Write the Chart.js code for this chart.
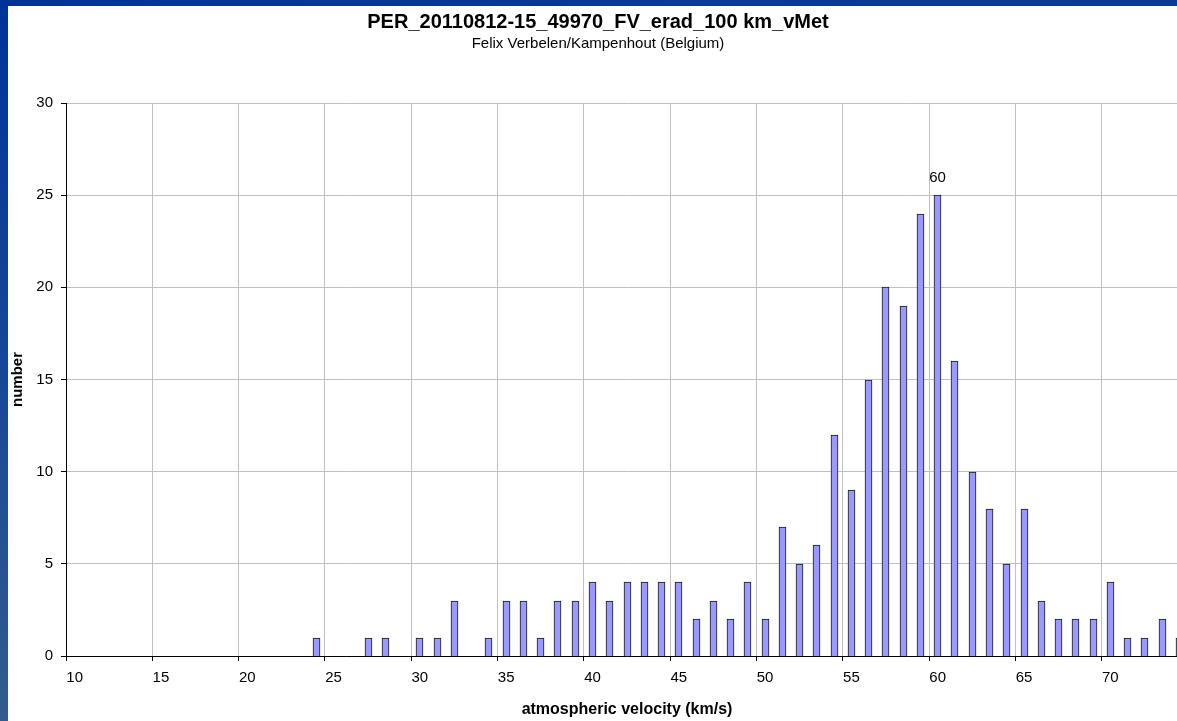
<!DOCTYPE html>
<html>
<head>
<meta charset="utf-8">
<script src="https://cdn.jsdelivr.net/npm/chart.js@4.4.1/dist/chart.umd.min.js"></script>
<style>
  html, body { margin: 0; padding: 0; width: 1177px; height: 721px; overflow: hidden; background: #ffffff; }
  #leftStrip { position: absolute; left: 0; top: 0; width: 8px; height: 721px; background: linear-gradient(to bottom, #003399 0%, #164798 50%, #315d8c 100%); }
  #topStrip { position: absolute; left: 0; top: 0; width: 1177px; height: 6px; background: linear-gradient(to right, #003399 0%, #0a3a9a 60%, #0b3b96 100%); }
  #c { position: absolute; left: 8px; top: 6px; }
</style>
</head>
<body>
<div id="leftStrip"></div>
<div id="topStrip"></div>
<canvas id="c" width="1180" height="715"></canvas>
<script>
const chartTitle = 'PER_20110812-15_49970_FV_erad_100 km_vMet';
const chartSubtitle = 'Felix Verbelen/Kampenhout (Belgium)';
const xAxisTitle = 'atmospheric velocity (km/s)';
const yAxisTitle = 'number';

const categories = ['10','11','12','13','14','15','16','17','18','19',
  '20','21','22','23','24','25','26','27','28','29',
  '30','31','32','33','34','35','36','37','38','39',
  '40','41','42','43','44','45','46','47','48','49',
  '50','51','52','53','54','55','56','57','58','59',
  '60','61','62','63','64','65','66','67','68','69',
  '70','71','72','73','74'];

const counts = [0,0,0,0,0,0,0,0,0,0,
  0,0,0,0,1,0,0,1,1,0,
  1,1,3,0,1,3,3,1,3,3,
  4,3,4,4,4,4,2,3,2,4,
  2,7,5,6,12,9,15,20,19,24,
  25,16,10,8,5,8,3,2,2,2,
  4,1,1,2,1];

const yTicks = [0, 5, 10, 15, 20, 25, 30];
const labelEvery = 5;

const FONT = '"Liberation Sans", Arial, sans-serif';

// snap bars (positioned by the category scale) to whole pixels so borders stay crisp
const pixelSnapPlugin = {
  id: 'pixelSnap',
  beforeDatasetsDraw(chart) {
    chart.getDatasetMeta(0).data.forEach(el => {
      el.x = Math.floor(el.x) + 0.5;
      el.y = Math.round(el.y);
      el.base = Math.round(el.base);
    });
  }
};

const peakLabelPlugin = {
  id: 'peakLabel',
  afterDatasetsDraw(chart) {
    const ds = chart.data.datasets[0].data;
    let idx = 0;
    ds.forEach((v, i) => { if (v > ds[idx]) idx = i; });
    const el = chart.getDatasetMeta(0).data[idx];
    const ctx = chart.ctx;
    ctx.save();
    ctx.font = '15px ' + FONT;
    ctx.fillStyle = '#000';
    ctx.textAlign = 'center';
    ctx.textBaseline = 'middle';
    ctx.fillText(chart.data.labels[idx], el.x, el.y - 17);
    ctx.restore();
  }
};

new Chart(document.getElementById('c'), {
  type: 'bar',
  data: {
    labels: categories,
    datasets: [{
      data: counts,
      backgroundColor: '#9999ff',
      borderColor: '#1a1a1a',
      borderWidth: 1,
      borderSkipped: 'start',
      barThickness: 7
    }]
  },
  options: {
    responsive: false,
    animation: false,
    devicePixelRatio: 1,
    layout: { padding: 0 },
    plugins: {
      legend: { display: false },
      tooltip: { enabled: false },
      title: {
        display: true,
        text: chartTitle,
        color: '#000',
        font: { family: FONT, size: 20, weight: 'bold' },
        padding: { top: 4, bottom: 0 }
      },
      subtitle: {
        display: true,
        text: chartSubtitle,
        color: '#000',
        font: { family: FONT, size: 15 },
        padding: { top: 1, bottom: 50 }
      }
    },
    scales: {
      x: {
        type: 'category',
        offset: true,
        grid: {
          offset: true,
          display: true,
          drawOnChartArea: true,
          color: (c) => (c.index % labelEvery === 0 && c.index !== 0) ? '#c0c0c0' : 'rgba(0,0,0,0)',
          tickColor: (c) => (c.index % labelEvery === 0) ? '#000' : 'rgba(0,0,0,0)',
          tickLength: 5,
          lineWidth: 1
        },
        border: { display: true, color: '#000', width: 1 },
        ticks: {
          autoSkip: false,
          maxRotation: 0,
          minRotation: 0,
          padding: 8,
          color: '#000',
          font: { family: FONT, size: 15 },
          callback: function(val, index) { return index % labelEvery === 0 ? this.getLabelForValue(val) : ''; }
        },
        title: {
          display: true,
          text: xAxisTitle,
          color: '#000',
          font: { family: FONT, size: 16, weight: 'bold' },
          padding: { top: 0, bottom: 2 }
        },
        afterFit(scale) { scale.height = 65; }
      },
      y: {
        min: 0,
        max: 30,
        afterBuildTicks(scale) { scale.ticks = yTicks.map(v => ({ value: v })); },
        grid: {
          color: '#c0c0c0',
          tickColor: '#000',
          tickLength: 5,
          lineWidth: 1
        },
        border: { display: true, color: '#000', width: 1 },
        ticks: {
          padding: 8,
          color: '#000',
          font: { family: FONT, size: 15 }
        },
        title: {
          display: true,
          text: yAxisTitle,
          color: '#000',
          font: { family: FONT, size: 15, weight: 'bold' },
          padding: { top: 1, bottom: 0 }
        },
        afterFit(scale) { scale.width = 58; }
      }
    }
  },
  plugins: [pixelSnapPlugin, peakLabelPlugin]
});
</script>
</body>
</html>
